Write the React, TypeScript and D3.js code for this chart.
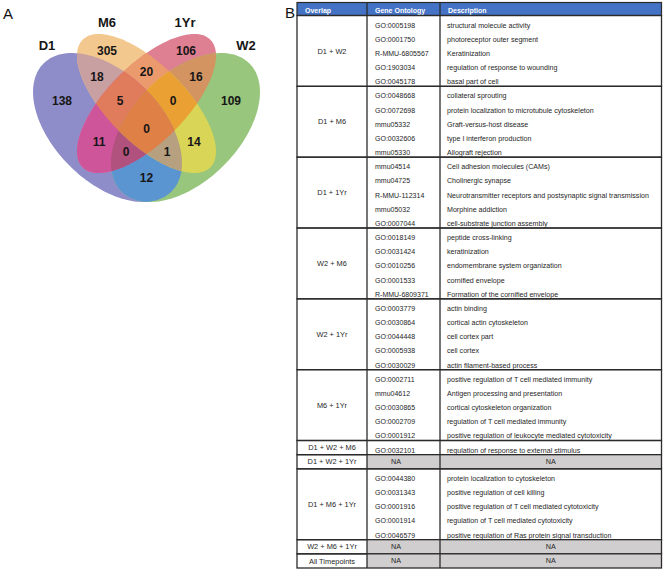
import React from "react";
import * as d3 from "d3";

// ---------- Venn data ----------
const setNames = ["D1", "M6", "1Yr", "W2"];
const regionMembers: string[][] = [
  ["D1"], ["M6"], ["1Yr"], ["W2"],
  ["D1", "M6"], ["M6", "1Yr"], ["1Yr", "W2"], ["D1", "W2"], ["D1", "1Yr"], ["M6", "W2"],
  ["D1", "M6", "1Yr"], ["M6", "1Yr", "W2"], ["D1", "1Yr", "W2"], ["D1", "M6", "W2"],
  ["D1", "M6", "1Yr", "W2"],
];
const regionCounts = [138, 305, 106, 109, 18, 20, 16, 12, 11, 14, 5, 0, 0, 1, 0];

// ---------- Table data ----------
const tableHeaders = ["Overlap", "Gene Ontology", "Description"];
const overlapLabels = [
  "D1 + W2", "D1 + M6", "D1 + 1Yr", "W2 + M6", "W2 + 1Yr", "M6 + 1Yr",
  "D1 + W2 + M6", "D1 + W2 + 1Yr", "D1 + M6 + 1Yr", "W2 + M6 + 1Yr", "All Timepoints",
];
const goIds: string[][] = [
  ["GO:0005198", "GO:0001750", "R-MMU-6805567", "GO:1903034", "GO:0045178"],
  ["GO:0048668", "GO:0072698", "mmu05332", "GO:0032606", "mmu05330"],
  ["mmu04514", "mmu04725", "R-MMU-112314", "mmu05032", "GO:0007044"],
  ["GO:0018149", "GO:0031424", "GO:0010256", "GO:0001533", "R-MMU-6809371"],
  ["GO:0003779", "GO:0030864", "GO:0044448", "GO:0005938", "GO:0030029"],
  ["GO:0002711", "mmu04612", "GO:0030865", "GO:0002709", "GO:0001912"],
  ["GO:0032101"],
  [],
  ["GO:0044380", "GO:0031343", "GO:0001916", "GO:0001914", "GO:0046579"],
  [],
  [],
];
const goDescriptions: string[][] = [
  ["structural molecule activity", "photoreceptor outer segment", "Keratinization", "regulation of response to wounding", "basal part of cell"],
  ["collateral sprouting", "protein localization to microtubule cytoskeleton", "Graft-versus-host disease", "type I interferon production", "Allograft rejection"],
  ["Cell adhesion molecules (CAMs)", "Cholinergic synapse", "Neurotransmitter receptors and postsynaptic signal transmission", "Morphine addiction", "cell-substrate junction assembly"],
  ["peptide cross-linking", "keratinization", "endomembrane system organization", "cornified envelope", "Formation of the cornified envelope"],
  ["actin binding", "cortical actin cytoskeleton", "cell cortex part", "cell cortex", "actin filament-based process"],
  ["positive regulation of T cell mediated immunity", "Antigen processing and presentation", "cortical cytoskeleton organization", "regulation of T cell mediated immunity", "positive regulation of leukocyte mediated cytotoxicity"],
  ["regulation of response to external stimulus"],
  [],
  ["protein localization to cytoskeleton", "positive regulation of cell killing", "positive regulation of T cell mediated cytotoxicity", "regulation of T cell mediated cytotoxicity", "positive regulation of Ras protein signal transduction"],
  [],
  [],
];
const naText = "NA";

// ---------- Styles / layout ----------
const FONT = "'Liberation Sans', Arial, Helvetica, sans-serif";
const regionColors = [
  "#8E8DC9", "#F3C88E", "#DF7F92", "#97C67C",
  "#C9A0A1", "#EA9A6C", "#D39462", "#5A95D1", "#CF559B", "#D9D556",
  "#E07B5B", "#EBA033", "#B0527D", "#B7A07F",
  "#DF8047",
];
// ellipse geometry in venn unit space
const ellipseGeom: Record<string, { cx: number; cy: number; a: number; b: number; rot: number }> = {
  D1: { cx: 0.3506, cy: 0.4885, a: 0.3467, b: 0.2065, rot: 45 },
  M6: { cx: 0.5, cy: 0.3966, a: 0.346, b: 0.149, rot: 45 },
  "1Yr": { cx: 0.5, cy: 0.3966, a: 0.346, b: 0.149, rot: -45 },
  W2: { cx: 0.6494, cy: 0.4885, a: 0.3467, b: 0.2065, rot: -45 },
};
const regionLabelPos: [number, number][] = [
  [0.1762, 0.387], [0.3487, 0.1954], [0.6513, 0.1954], [0.8238, 0.387],
  [0.3103, 0.295], [0.5, 0.2759], [0.6897, 0.295], [0.5, 0.682], [0.318, 0.5441], [0.682, 0.5441],
  [0.3985, 0.387], [0.6015, 0.387], [0.4215, 0.5824], [0.5785, 0.5824],
  [0.5, 0.4943],
];
const setLabelPos: [number, number][] = [
  [0.1188, 0.1724], [0.3487, 0.0843], [0.6475, 0.0843], [0.8812, 0.1724],
];

const xV = d3.scaleLinear().domain([0, 1]).range([16, 277]);
const yV = d3.scaleLinear().domain([0, 1]).range([0, 261]);

function ellipsePath(name: string): string {
  const e = ellipseGeom[name];
  const r = (e.rot * Math.PI) / 180;
  const pts: [number, number][] = d3.range(0, 360, 2).map((deg) => {
    const t = (deg * Math.PI) / 180;
    const ex = e.a * Math.cos(t);
    const ey = e.b * Math.sin(t);
    return [e.cx + ex * Math.cos(r) - ey * Math.sin(r), e.cy + ex * Math.sin(r) + ey * Math.cos(r)];
  });
  return d3
    .line<[number, number]>()
    .x((p) => xV(p[0]))
    .y((p) => yV(p[1]))
    .curve(d3.curveLinearClosed)(pts) as string;
}

// table layout
const colX = [297, 367, 440, 661.5];
const headerTop = 2.5;
const headerBottom = 15.5;

type Group = { label: string; start: number; n: number; ids: string[]; descs: string[] };
const groups: Group[] = [];
{
  let s = 0;
  overlapLabels.forEach((label, i) => {
    const n = Math.max(1, goIds[i].length);
    groups.push({ label, start: s, n, ids: goIds[i], descs: goDescriptions[i] });
    s += n;
  });
}
const totalRows = d3.sum(groups, (g) => g.n);
const rowY = d3.scaleLinear().domain([0, totalRows]).range([headerBottom, 568]);

const clipId = (n: string) => `venn-clip-${n.replace(/[^A-Za-z0-9]/g, "")}`;

export default function App() {
  const lineColor = "#2b2b2b";
  const textColor = "#262626";
  return (
    <svg
      width={663}
      height={570}
      style={{ position: "absolute", left: 0, top: 0, display: "block", background: "#fff" }}
      fontFamily={FONT}
    >
      <defs>
        {setNames.map((n) => (
          <clipPath id={clipId(n)} key={n}>
            <path d={ellipsePath(n)} />
          </clipPath>
        ))}
      </defs>

      {/* Panel letters */}
      <text x={3} y={19} fontSize={15} fill="#111">A</text>
      <text x={285} y={18} fontSize={15} fill="#111">B</text>

      {/* Venn regions painted by increasing order */}
      <g>
        {regionMembers.map((members, i) => {
          const inner = (
            <rect
              x={xV(0)}
              y={yV(0)}
              width={xV(1) - xV(0)}
              height={yV(1) - yV(0)}
              fill={regionColors[i]}
            />
          );
          const wrapped = members.reduceRight<React.ReactElement>(
            (child, name) => <g clipPath={`url(#${clipId(name)})`}>{child}</g>,
            inner
          );
          return <g key={i}>{wrapped}</g>;
        })}
      </g>

      {/* Region counts */}
      {regionCounts.map((c, i) => (
        <text
          key={i}
          x={xV(regionLabelPos[i][0])}
          y={yV(regionLabelPos[i][1])}
          dy="0.36em"
          textAnchor="middle"
          fontSize={12}
          fontWeight="bold"
          fill="#161616"
        >
          {c}
        </text>
      ))}
      {setNames.map((n, i) => (
        <text
          key={n}
          x={xV(setLabelPos[i][0])}
          y={yV(setLabelPos[i][1])}
          dy="0.36em"
          textAnchor="middle"
          fontSize={13}
          fontWeight="bold"
          fill="#161616"
        >
          {n}
        </text>
      ))}

      {/* Table */}
      <rect
        x={colX[0]}
        y={headerTop}
        width={colX[3] - colX[0]}
        height={headerBottom - headerTop}
        fill="#4472C4"
        stroke={lineColor}
        strokeWidth={1.2}
      />
      {tableHeaders.map((h, i) => (
        <text key={h} x={colX[i] + 8} y={13} fontSize={7} fontWeight="bold" fill="#fff">
          {h}
        </text>
      ))}

      {groups.map((g, gi) => {
        const y0 = rowY(g.start);
        const y1 = rowY(g.start + g.n);
        const isNA = g.ids.length === 0;
        return (
          <g key={gi}>
            {isNA && (
              <rect x={colX[1]} y={y0} width={colX[3] - colX[1]} height={y1 - y0} fill="#D0CECE" />
            )}
            <rect
              x={colX[0]}
              y={y0}
              width={colX[3] - colX[0]}
              height={y1 - y0}
              fill="none"
              stroke={lineColor}
              strokeWidth={1.3}
            />
            <text
              x={(colX[0] + colX[1]) / 2}
              y={(y0 + y1) / 2}
              dy="0.35em"
              textAnchor="middle"
              fontSize={7.4}
              fill={textColor}
            >
              {g.label}
            </text>
            {isNA ? (
              <>
                <text x={colX[1] + 29} y={(y0 + y1) / 2} dy="0.35em" textAnchor="middle" fontSize={7.2} fill={textColor}>
                  {naText}
                </text>
                <text x={(colX[2] + colX[3]) / 2} y={(y0 + y1) / 2} dy="0.35em" textAnchor="middle" fontSize={7.2} fill={textColor}>
                  {naText}
                </text>
              </>
            ) : (
              g.ids.map((id, k) => {
                const cy = (rowY(g.start + k) + rowY(g.start + k + 1)) / 2 + 5;
                return (
                  <g key={k}>
                    <text x={colX[1] + 8} y={cy} fontSize={7} fill={textColor}>
                      {id}
                    </text>
                    <text x={colX[2] + 7} y={cy} fontSize={7.1} fill={textColor}>
                      {g.descs[k]}
                    </text>
                  </g>
                );
              })
            )}
          </g>
        );
      })}
      {[colX[1], colX[2]].map((x) => (
        <line key={x} x1={x} x2={x} y1={headerTop} y2={rowY(totalRows)} stroke={lineColor} strokeWidth={1.3} />
      ))}
    </svg>
  );
}
